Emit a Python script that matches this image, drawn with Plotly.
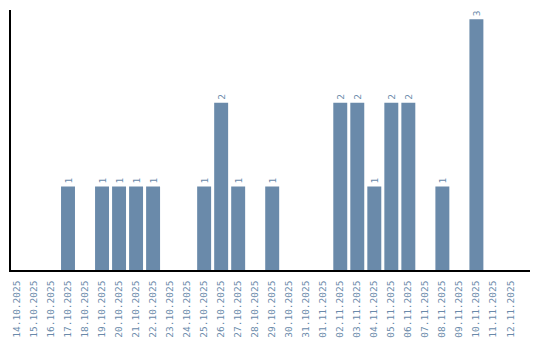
import plotly.graph_objects as go

dates = ["14.10.2025","15.10.2025","16.10.2025","17.10.2025","18.10.2025","19.10.2025",
         "20.10.2025","21.10.2025","22.10.2025","23.10.2025","24.10.2025","25.10.2025",
         "26.10.2025","27.10.2025","28.10.2025","29.10.2025","30.10.2025","31.10.2025",
         "01.11.2025","02.11.2025","03.11.2025","04.11.2025","05.11.2025","06.11.2025",
         "07.11.2025","08.11.2025","09.11.2025","10.11.2025","11.11.2025","12.11.2025"]
counts = [0,0,0,1,0,1,1,1,1,0,0,1,2,1,0,1,0,0,0,2,2,1,2,2,0,1,0,3,0,0]

labels = [str(v) if v > 0 else "" for v in counts]

color = "#6a8aaa"
fig = go.Figure(go.Bar(
    x=dates, y=counts, marker_color=color, marker_line_width=0,
    text=labels, textposition="outside", textangle=-90,
    textfont=dict(family="DejaVu Sans Mono", size=9.5, color=color),
    cliponaxis=False,
))
fig.update_layout(
    width=540, height=340,
    margin=dict(l=11, r=10, t=10, b=70, autoexpand=False),
    plot_bgcolor="white", paper_bgcolor="white",
    bargap=0.18, showlegend=False,
    font=dict(family="DejaVu Sans Mono", size=9.5, color=color),
)
fig.update_xaxes(type="category", range=[-0.35, 30.15], tickangle=-90, automargin=False,
                 showline=True, linecolor="black", linewidth=1.5, showgrid=False,
                 ticks="", ticklabelstandoff=5,
                 tickfont=dict(family="DejaVu Sans Mono", size=9.5, color=color))
fig.update_yaxes(range=[0, 3.11], showline=True, linecolor="black", linewidth=1.5,
                 showgrid=False, zeroline=False, showticklabels=False, ticks="", automargin=False)
fig.write_html("out.html")
